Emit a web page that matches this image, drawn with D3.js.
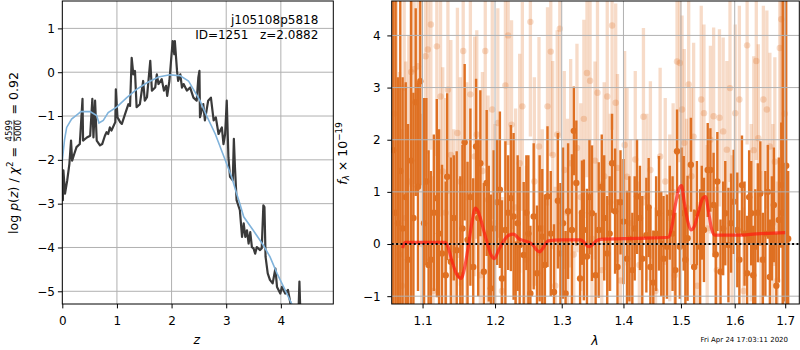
<!DOCTYPE html>
<html>
<head>
<meta charset="utf-8">
<script src="https://cdn.jsdelivr.net/npm/d3@7"></script>
<style>
  body { margin: 0; background: #fff; }
  text { font-family: "DejaVu Sans", sans-serif; }
</style>
</head>
<body>
<svg id="chart" width="800" height="350"></svg>
<script>
// left panel: log p(z)
const zTicks = [0, 1, 2, 3, 4]
const logpTicks = [-5, -4, -3, -2, -1, 0, 1]
const pzZ = [0.00,0.01,0.02,0.05,0.09,0.13,0.16,0.18,0.22,0.26,0.32,0.37,0.38,0.45,0.51,0.55,0.57,0.60,0.63,0.69,
  0.73,0.78,0.81,0.84,0.87,0.90,0.97,0.98,1.01,1.06,1.09,1.15,1.21,1.24,1.27,1.30,1.33,1.36,1.42,1.48,
  1.51,1.55,1.61,1.64,1.70,1.73,1.76,1.82,1.86,1.90,1.92,1.96,2.00,2.02,2.05,2.06,2.10,2.12,2.16,2.19,
  2.22,2.28,2.34,2.40,2.46,2.49,2.51,2.52,2.58,2.61,2.67,2.72,2.77,2.81,2.86,2.89,2.92,2.95,2.98,3.01,
  3.04,3.07,3.12,3.14,3.16,3.19,3.25,3.29,3.32,3.35,3.38,3.41,3.44,3.47,3.50,3.53,3.56,3.62,3.65,3.68,
  3.70,3.72,3.76,3.80,3.85,3.90,3.93,3.99,4.02,4.08,4.13,4.17,4.22,4.32,4.34,4.36]
const pzLog = [-2.30,-2.92,-2.24,-2.77,-2.47,-2.09,-1.56,-2.02,-1.86,-1.71,-1.64,-0.61,-1.56,-1.49,-1.45,-0.61,-1.49,-0.65,-1.56,-1.67,
  -1.64,-1.45,-1.37,-1.41,-1.26,-1.33,-1.14,-0.39,-1.03,-1.14,-1.18,-0.95,-0.73,-0.77,0.33,-0.05,0.03,-0.80,-0.73,-0.20,
  -0.65,-0.57,0.26,-0.42,-0.35,-0.05,-0.27,-0.16,-0.42,-0.31,-0.54,-0.20,0.41,0.71,0.41,0.71,0.03,-0.20,-0.05,-0.35,
  -0.27,-0.42,-0.35,-0.58,-0.65,-0.12,0.03,-1.03,-0.73,-1.10,-0.65,-0.58,-1.10,-1.03,-1.41,-1.33,-1.26,-1.64,-1.41,-0.65,
  -1.94,-2.39,-2.47,-1.52,-2.17,-2.92,-3.15,-3.76,-3.45,-3.76,-3.61,-3.91,-3.65,-3.99,-4.02,-4.14,-3.99,-4.06,-4.02,-3.04,
  -3.08,-4.21,-4.59,-4.74,-4.82,-4.48,-4.90,-5.05,-4.90,-5.05,-4.97,-5.24,-5.60,-5.60,-4.78,-5.60]
const priorZ = [0.00,0.04,0.08,0.17,0.29,0.34,0.51,0.63,0.67,0.75,0.84,1.00,1.18,1.36,1.55,1.76,1.97,2.16,2.31,2.40,
  2.52,2.64,2.80,2.95,3.10,3.19,3.25,3.32,3.50,3.68,3.80,3.93,4.05,4.20,4.30]
const priorLog = [-2.02,-1.55,-1.26,-1.07,-0.95,-0.90,-0.90,-0.99,-1.16,-1.10,-0.92,-0.79,-0.58,-0.39,-0.24,-0.11,-0.06,-0.08,-0.20,-0.39,
  -0.65,-0.99,-1.41,-1.90,-2.39,-2.77,-3.00,-3.30,-3.62,-3.95,-4.21,-4.59,-4.90,-5.29,-5.62]

// right panel: spectrum  [wave, flux, err]
const waveTicks = [1.1, 1.2, 1.3, 1.4, 1.5, 1.6, 1.7]
const fluxTicks = [-1, 0, 1, 2, 3, 4]
const darkPts = [
  [1.062,1.8,4.5],[1.065,0.6,4.5],[1.068,0.4,2.8],[1.071,1.4,4.5],[1.074,0.3,2.9],[1.078,0.9,2.2],[1.081,-0.3,2.6],[1.085,1.6,4.5],
  [1.088,0.5,2.4],[1.091,2.72,1.8],[1.094,1.1,2.0],[1.097,3.12,2.0],[1.102,0.40,2.4],[1.105,1.20,1.6],[1.108,-0.40,2.2],[1.111,-0.30,1.7],
  [1.115,0.60,1.5],[1.119,0.88,1.9],[1.122,0.20,2.0],[1.126,-0.18,1.7],[1.131,-0.60,1.8],[1.133,1.29,1.6],[1.138,-0.34,2.0],[1.142,0.50,1.2],
  [1.146,-0.12,1.9],[1.151,-0.60,1.9],[1.154,0.30,1.6],[1.157,1.95,1.5],[1.161,0.08,1.5],[1.165,0.90,1.7],[1.169,-0.44,1.7],[1.173,1.87,1.3],
  [1.176,0.50,1.5],[1.179,1.55,1.4],[1.184,-0.53,1.7],[1.188,1.17,1.4],[1.191,0.20,1.3],[1.194,-0.85,1.8],[1.198,0.30,1.5],[1.203,0.80,1.2],
  [1.207,1.04,1.5],[1.210,-0.66,1.5],[1.215,0.27,1.7],[1.219,0.60,1.1],[1.223,0.88,1.4],[1.227,0.53,1.6],[1.230,-1.25,1.3],[1.233,0.40,1.3],
  [1.236,-0.02,1.5],[1.242,-0.21,1.4],[1.246,0.60,1.1],[1.249,0.20,1.5],[1.252,-0.95,1.3],[1.257,0.53,1.4],[1.262,-0.56,1.3],[1.266,0.30,1.4],
  [1.270,0.14,1.3],[1.274,-0.40,1.35],[1.278,0.91,1.35],[1.283,0.20,1.2],[1.288,-0.92,1.3],[1.294,0.83,1.3],[1.298,-0.18,1.35],[1.302,0.40,1.45],
  [1.306,-0.95,1.2],[1.310,0.63,1.3],[1.316,0.27,1.45],[1.319,2.17,0.85],[1.323,1.17,1.2],[1.329,-0.66,1.3],[1.332,0.60,1.0],[1.335,0.27,1.35],
  [1.340,-0.24,1.3],[1.344,0.90,1.1],[1.348,0.59,1.3],[1.354,-0.60,1.2],[1.359,0.27,1.3],[1.364,1.10,1.0],[1.368,0.50,1.2],[1.373,-0.18,1.1],
  [1.377,0.20,1.1],[1.381,1.55,0.95],[1.386,0.63,1.2],[1.390,-0.44,1.3],[1.395,0.80,1.0],[1.400,0.43,1.2],[1.406,-0.28,1.3],[1.410,0.10,1.2],
  [1.415,-0.50,1.1],[1.419,0.30,1.0],[1.423,0.91,1.1],[1.428,0.50,1.0],[1.432,-0.28,1.2],[1.439,0.17,1.1],[1.443,0.70,0.95],[1.446,-0.44,1.1],
  [1.451,-0.74,1.0],[1.456,0.20,1.1],[1.461,0.59,1.1],[1.465,0.00,1.0],[1.469,-0.28,1.2],[1.475,-0.05,1.0],[1.480,0.60,0.9],[1.485,0.20,1.1],
  [1.490,-0.50,1.1],[1.493,1.78,0.8],[1.498,-0.05,1.0],[1.501,0.90,0.95],[1.505,0.59,1.1],[1.508,-0.30,1.0],[1.512,0.11,1.2],[1.518,1.52,0.9],
  [1.524,-0.44,1.1],[1.529,0.59,1.0],[1.535,-0.05,1.1],[1.538,0.60,0.9],[1.542,0.27,1.0],[1.549,1.42,0.9],[1.554,1.42,0.8],[1.560,0.75,1.0],
  [1.564,-0.20,0.95],[1.567,1.20,0.95],[1.573,-0.53,1.0],[1.578,0.30,0.9],[1.582,0.59,1.0],[1.588,-0.02,1.1],[1.593,0.40,0.95],[1.598,0.81,1.0],
  [1.605,0.27,1.1],[1.609,-0.30,0.95],[1.614,1.13,0.95],[1.619,0.20,1.0],[1.624,-0.56,1.1],[1.628,0.90,0.9],[1.632,0.59,1.0],[1.636,-0.60,0.95],
  [1.640,-0.05,1.1],[1.645,0.60,0.95],[1.650,0.97,1.0],[1.655,-0.30,0.9],[1.660,0.20,1.2],[1.665,1.00,0.9],[1.669,-0.63,1.1],[1.673,0.30,1.0],
  [1.677,0.75,1.1],[1.682,-0.80,1.0],[1.687,0.46,1.2],[1.692,1.13,1.2],[1.695,0.60,4.5],[1.700,0.20,1.3],[1.702,1.50,4.5],[1.706,0.10,1.3]
]
const lightPts = [
  [1.063,2.5,4.0],[1.066,1.0,4.0],[1.070,-0.2,3.5],[1.073,-0.8,3.0],[1.076,3.0,3.5],[1.078,0.5,3.0],[1.082,1.2,2.8],[1.085,3.3,2.2],
  [1.089,3.35,2.2],[1.094,3.41,2.4],[1.099,0.00,2.5],[1.104,3.60,2.3],[1.107,3.73,2.0],[1.111,4.21,2.4],[1.114,-0.90,2.2],[1.119,3.79,2.1],
  [1.124,2.83,2.3],[1.127,1.39,2.0],[1.131,0.60,2.2],[1.134,2.96,2.0],[1.138,1.71,2.2],[1.142,-0.10,2.3],[1.147,2.13,2.4],[1.151,1.20,2.0],
  [1.155,3.70,2.1],[1.160,0.90,2.2],[1.165,2.87,2.0],[1.171,1.68,2.3],[1.174,2.10,2.0],[1.179,-0.60,2.1],[1.182,1.40,1.9],[1.186,3.70,2.2],
  [1.190,0.85,2.0],[1.196,2.58,2.1],[1.200,0.40,1.9],[1.204,2.32,2.2],[1.210,-0.90,1.8],[1.215,3.04,2.0],[1.219,4.00,2.1],[1.224,2.29,2.0],
  [1.230,0.70,1.9],[1.236,1.55,2.1],[1.240,2.64,2.0],[1.246,-0.30,1.8],[1.252,4.26,2.2],[1.258,1.20,2.0],[1.265,1.87,2.1],[1.270,0.30,1.9],
  [1.278,2.64,1.9],[1.283,3.69,2.0],[1.286,1.71,1.8],[1.290,-0.80,1.9],[1.293,2.10,2.0],[1.297,4.13,2.1],[1.304,1.42,1.9],[1.309,0.60,1.8],
  [1.314,1.55,2.0],[1.319,-0.20,1.9],[1.324,1.84,2.0],[1.330,0.90,1.8],[1.335,2.40,1.9],[1.340,3.28,2.0],[1.345,3.13,1.9],[1.348,0.10,1.8],
  [1.353,1.60,1.9],[1.357,2.90,1.9],[1.364,-0.50,1.7],[1.368,1.30,1.8],[1.373,2.83,1.9],[1.378,0.80,1.7],[1.381,4.19,2.0],[1.387,2.71,1.9],
  [1.390,1.46,1.8],[1.395,-0.70,1.7],[1.402,1.90,1.8],[1.406,1.29,1.7],[1.412,0.40,1.6],[1.420,1.62,1.7],[1.427,-0.40,1.6],[1.434,2.44,1.7],
  [1.440,0.90,1.6],[1.446,1.42,1.7],[1.455,-0.90,1.6],[1.463,1.68,1.7],[1.472,1.20,1.6],[1.480,0.50,1.6],[1.486,1.00,1.7],[1.489,-0.60,1.6],
  [1.493,3.50,1.8],[1.498,3.47,1.9],[1.502,2.58,1.8],[1.506,1.94,1.8],[1.510,0.70,1.7],[1.514,3.06,1.8],[1.519,1.30,1.7],[1.523,2.06,1.8],
  [1.530,-0.80,1.6],[1.537,2.77,1.8],[1.542,2.51,1.7],[1.548,0.30,1.6],[1.554,2.00,1.8],[1.560,2.45,1.7],[1.566,-0.50,1.6],[1.571,2.42,1.7],
  [1.578,2.16,1.8],[1.585,1.81,1.7],[1.591,2.99,1.8],[1.595,0.10,1.6],[1.601,2.51,1.7],[1.609,2.77,1.8],[1.617,-0.90,1.6],[1.624,3.81,1.9],
  [1.632,0.60,1.7],[1.637,1.80,1.8],[1.642,3.51,1.9],[1.646,2.03,1.8],[1.651,-0.30,1.7],[1.656,2.77,1.8],[1.663,2.58,1.9],[1.669,1.87,1.8],
  [1.675,0.40,1.9],[1.679,1.58,2.0],[1.684,-0.70,1.9],[1.689,3.76,2.4],[1.692,4.31,2.5],[1.696,1.50,4.0],[1.699,2.50,3.5]
]
const modelWave = [1.074,1.077,1.130,1.134,1.139,1.146,1.152,1.157,1.162,1.167,1.172,1.176,1.180,1.185,1.189,1.194,1.199,1.205,1.212,1.220,
  1.227,1.235,1.246,1.256,1.262,1.266,1.271,1.279,1.300,1.330,1.337,1.342,1.348,1.355,1.362,1.420,1.478,1.484,1.490,1.496,
  1.501,1.506,1.512,1.518,1.524,1.532,1.540,1.545,1.550,1.556,1.562,1.600,1.650,1.700]
const modelFlux = [-0.08,0.03,0.03,-0.05,-0.30,-0.58,-0.66,-0.45,-0.05,0.40,0.69,0.62,0.45,0.20,0.01,-0.20,-0.28,-0.12,0.05,0.17,
  0.19,0.10,0.05,-0.02,-0.12,-0.15,-0.08,0.06,0.08,0.08,0.01,-0.05,-0.02,0.06,0.09,0.11,0.13,0.35,0.75,1.05,
  1.12,0.80,0.45,0.27,0.33,0.62,0.88,0.91,0.65,0.30,0.17,0.17,0.20,0.22]

window.onload = function () {
  let svg = d3.select('#chart')
  let orange = '#df7022'

  // scales
  let zx = d3.scaleLinear().domain([0, 4.96]).range([62.3, 333.3])
  let zy = d3.scaleLinear().domain([-5.29, 1.625]).range([304, 1])
  let lx = d3.scaleLog().domain([1.06, 1.729]).range([391.7, 799.3])
  let fy = d3.scaleLinear().domain([-1.15, 4.66]).range([304, 1])

  let defs = svg.append('defs')
  let addClip = function (id, xs, ys) {
    defs.append('clipPath').attr('id', id).append('rect')
      .attr('x', xs.range()[0]).attr('y', ys.range()[1])
      .attr('width', xs.range()[1] - xs.range()[0]).attr('height', ys.range()[0] - ys.range()[1])
  }
  addClip('clipL', zx, zy)
  addClip('clipR', lx, fy)

  let drawGrid = function (g, xs, ys, xt, yt) {
    g.selectAll(null).data(xt).enter().append('line')
      .attr('x1', d => xs(d)).attr('x2', d => xs(d))
      .attr('y1', ys.range()[0]).attr('y2', ys.range()[1])
      .attr('stroke', '#b0b0b0').attr('stroke-width', 1)
    g.selectAll(null).data(yt).enter().append('line')
      .attr('y1', d => ys(d)).attr('y2', d => ys(d))
      .attr('x1', xs.range()[0]).attr('x2', xs.range()[1])
      .attr('stroke', '#b0b0b0').attr('stroke-width', 1)
  }

  let styleAxis = function (g) {
    g.attr('font-family', '"DejaVu Sans", sans-serif').attr('font-size', 12)
    g.select('.domain').remove()
    g.selectAll('.tick line').attr('stroke', '#000').attr('stroke-width', 1)
    g.selectAll('.tick text').attr('fill', '#000')
  }

  let drawFrame = function (xs, ys) {
    svg.append('rect')
      .attr('x', xs.range()[0]).attr('y', ys.range()[1])
      .attr('width', xs.range()[1] - xs.range()[0]).attr('height', ys.range()[0] - ys.range()[1])
      .attr('fill', 'none').attr('stroke', '#000').attr('stroke-width', 1)
  }

  // ---- left panel ----
  let gl = svg.append('g').attr('clip-path', 'url(#clipL)')
  drawGrid(gl, zx, zy, zTicks, logpTicks)

  let lineL = d3.line().x(d => zx(d[0])).y(d => zy(d[1]))
  gl.append('path').datum(d3.zip(pzZ, pzLog))
    .attr('d', lineL).attr('fill', 'none')
    .attr('stroke', '#3a3a3a').attr('stroke-width', 2.2).attr('stroke-linejoin', 'round')
  gl.append('path').datum(d3.zip(priorZ, priorLog))
    .attr('d', lineL).attr('fill', 'none')
    .attr('stroke', '#80b3db').attr('stroke-width', 1.6)

  svg.append('g').attr('transform', 'translate(0,304)')
    .call(d3.axisBottom(zx).tickValues(zTicks).tickSize(4.4).tickPadding(8.4).tickFormat(d3.format('d')))
    .call(styleAxis)
  svg.append('g').attr('transform', 'translate(62.3,0)')
    .call(d3.axisLeft(zy).tickValues(logpTicks).tickSize(4.4).tickPadding(2.9).tickFormat(d3.format('d')))
    .call(styleAxis)
  drawFrame(zx, zy)

  svg.append('text').attr('x', 318.3).attr('y', 24.3).attr('text-anchor', 'end')
    .attr('font-size', 12).text('j105108p5818')
  svg.append('text').attr('x', 318.3).attr('y', 38.7).attr('text-anchor', 'end')
    .attr('font-size', 12).style('white-space', 'pre').text('ID=1251   z=2.0882')

  // ---- right panel ----
  let gr = svg.append('g').attr('clip-path', 'url(#clipR)')

  let drawErr = function (pts, opacity, barW) {
    let g = gr.append('g')
    g.selectAll(null).data(pts).enter().append('line')
      .attr('x1', d => lx(d[0])).attr('x2', d => lx(d[0]))
      .attr('y1', d => fy(d[1] - d[2])).attr('y2', d => fy(d[1] + d[2]))
      .attr('stroke', orange).attr('stroke-width', barW).attr('stroke-opacity', opacity)
    g.selectAll(null).data(pts).enter().append('circle')
      .attr('cx', d => lx(d[0])).attr('cy', d => fy(d[1])).attr('r', 3.2)
      .attr('fill', orange).attr('fill-opacity', opacity)
  }
  drawErr(lightPts, 0.25, 3.3)
  drawErr(darkPts, 1, 2.4)

  drawGrid(gr, lx, fy, waveTicks, fluxTicks)

  gr.append('path').datum(d3.zip(modelWave, modelFlux))
    .attr('d', d3.line().x(d => lx(d[0])).y(d => fy(d[1])).curve(d3.curveMonotoneX))
    .attr('fill', 'none').attr('stroke', '#ff1a10').attr('stroke-opacity', 0.7)
    .attr('stroke-width', 3.2)
  gr.append('line')
    .attr('x1', lx.range()[0]).attr('x2', lx.range()[1])
    .attr('y1', fy(0)).attr('y2', fy(0))
    .attr('stroke', '#000').attr('stroke-width', 2).attr('stroke-dasharray', '2,2.4')

  svg.append('g').attr('transform', 'translate(0,304)')
    .call(d3.axisBottom(lx).tickValues(waveTicks).tickSize(4.4).tickPadding(8.4).tickFormat(d3.format('.1f')))
    .call(styleAxis)
  svg.append('g').attr('transform', 'translate(391.7,0)')
    .call(d3.axisLeft(fy).tickValues(fluxTicks).tickSize(4.4).tickPadding(6.6).tickFormat(d3.format('d')))
    .call(styleAxis)
  drawFrame(lx, fy)

  // ---- labels ----
  let mathLabel = function (parts, tx, ty) {
    let g = svg.append('g')
    let cx = 0
    parts.forEach(p => {
      if (p.frac) {
        let num = g.append('text').attr('font-size', p.size).attr('text-anchor', 'middle').text(p.frac[0])
        let den = g.append('text').attr('font-size', p.size).attr('text-anchor', 'middle').text(p.frac[1])
        let w = Math.max(num.node().getComputedTextLength(), den.node().getComputedTextLength())
        cx += 1.5
        num.attr('x', cx + w / 2).attr('y', -6)
        den.attr('x', cx + w / 2).attr('y', 2.7)
        g.append('line').attr('x1', cx).attr('x2', cx + w).attr('y1', -4).attr('y2', -4)
          .attr('stroke', '#000').attr('stroke-width', 0.7)
        cx += w + 1.5
      } else {
        let t = g.append('text').attr('x', cx).attr('y', p.dy || 0)
          .attr('font-size', p.size || 12.5)
          .attr('font-style', p.it ? 'italic' : null)
          .style('white-space', 'pre').text(p.t)
        cx += t.node().getComputedTextLength()
      }
    })
    g.attr('transform', `translate(${tx},${ty + cx / 2}) rotate(-90)`)
  }

  mathLabel([
    { t: 'log ' }, { t: 'p', it: true }, { t: '(' }, { t: 'z', it: true }, { t: ') / ' },
    { t: 'χ', it: true }, { t: '2', size: 8.75, dy: -5 }, { t: ' = ' },
    { frac: ['4599', '5000'], size: 8.5 }, { t: ' = 0.92' }
  ], 18, 153)

  mathLabel([
    { t: 'f', it: true }, { t: 'λ', it: true, size: 8.75, dy: 2.5 }, { t: ' × 10' },
    { t: '−19', size: 8.75, dy: -5 }
  ], 346.5, 153.5)

  svg.append('text').attr('x', 196.7).attr('y', 343.5).attr('text-anchor', 'middle')
    .attr('font-size', 12.5).attr('font-style', 'italic').text('z')
  svg.append('text').attr('x', 595).attr('y', 344.5).attr('text-anchor', 'middle')
    .attr('font-size', 12.5).attr('font-style', 'italic').text('λ')

  svg.append('text').attr('x', 788).attr('y', 341.5).attr('text-anchor', 'end')
    .attr('font-size', 7).text('Fri Apr 24 17:03:11 2020')
}
</script>
</body>
</html>
